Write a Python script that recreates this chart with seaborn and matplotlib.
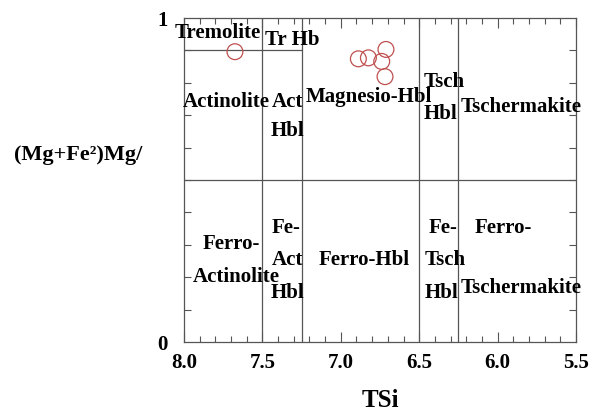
import matplotlib
matplotlib.use("Agg")
import matplotlib.pyplot as plt
from matplotlib.ticker import MultipleLocator, FixedLocator
import seaborn as sns
import pandas as pd

# Amphibole analyses: tetrahedral Si vs Mg/(Mg+Fe2+)
tsi = [7.675, 6.888, 6.824, 6.712, 6.739, 6.718]
mg_ratio = [0.896, 0.874, 0.877, 0.903, 0.866, 0.819]

# Field boundaries of the classification diagram
si_bounds = [7.5, 7.25, 6.5, 6.25]
mg_bound = 0.5
tremolite_bound = 0.9

x_ticks = [8.0, 7.5, 7.0, 6.5, 6.0, 5.5]
x_tick_labels = ["8.0", "7.5", "7.0", "6.5", "6.0", "5.5"]
y_ticks = [0, 1]
y_tick_labels = ["0", "1"]

field_names = ["Tremolite", "Tr Hb", "Actinolite", "Act", "Hbl", "Magnesio-Hbl",
               "Tsch", "Hbl", "Tschermakite",
               "Ferro-", "Actinolite", "Fe-", "Act", "Hbl", "Ferro-Hbl",
               "Fe-", "Tsch", "Hbl", "Ferro-", "Tschermakite"]
# label anchor points (TSi, Mg ratio)
field_pos = [(7.783, 0.954), (7.311, 0.932), (7.729, 0.741), (7.337, 0.741),
             (7.337, 0.651), (6.820, 0.756), (6.342, 0.802), (6.367, 0.704),
             (5.848, 0.725),
             (7.697, 0.302), (7.665, 0.201), (7.349, 0.352), (7.340, 0.253),
             (7.340, 0.151), (6.852, 0.253), (6.351, 0.352), (6.335, 0.253),
             (6.355, 0.151), (5.962, 0.352), (5.848, 0.167)]

sns.set_theme(style="white")
plt.rcParams["font.family"] = ["Liberation Serif", "DejaVu Serif"]
plt.rcParams["font.weight"] = "bold"
plt.rcParams["text.color"] = "black"
plt.rcParams["axes.labelcolor"] = "black"
plt.rcParams["xtick.color"] = "black"
plt.rcParams["ytick.color"] = "black"

df = pd.DataFrame({"TSi": tsi, "Mg": mg_ratio})

fig = plt.figure(figsize=(5.92, 4.12), dpi=100)
ax = fig.add_axes([184 / 592, 70 / 412, 392 / 592, 324 / 412])

line_kw = dict(color="#555555", lw=0.9, zorder=1)
for s in si_bounds:
    ax.axvline(s, **line_kw)
ax.axhline(mg_bound, **line_kw)
ax.plot([8.0, 7.25], [tremolite_bound, tremolite_bound], **line_kw)

sns.scatterplot(data=df, x="TSi", y="Mg", ax=ax, marker="o", s=130,
                facecolor="none", edgecolor="#bf5050", linewidth=0.9, zorder=3)

for name, (x, y) in zip(field_names, field_pos):
    ax.text(x, y, name, ha="center", va="center", fontsize=15,
            fontweight="bold", color="black", zorder=4, clip_on=False)

ax.set_xlim(8.0, 5.5)
ax.set_ylim(0, 1)
ax.xaxis.set_major_locator(FixedLocator(x_ticks))
ax.set_xticklabels(x_tick_labels)
ax.xaxis.set_minor_locator(MultipleLocator(0.1))
ax.yaxis.set_major_locator(FixedLocator(y_ticks))
ax.set_yticklabels(y_tick_labels)
ax.yaxis.set_minor_locator(MultipleLocator(0.1))

ax.tick_params(axis="both", which="both", direction="in", top=True, right=True,
               bottom=True, left=True, color="#555555", width=0.8,
               labelcolor="black")
ax.tick_params(axis="x", which="major", length=7, pad=8, labelsize=15)
ax.tick_params(axis="x", which="minor", length=4)
ax.tick_params(axis="y", which="major", length=0, pad=12, labelsize=15)
ax.tick_params(axis="y", which="minor", length=5)
for lbl in ax.get_xticklabels() + ax.get_yticklabels():
    lbl.set_fontweight("bold")

for sp in ax.spines.values():
    sp.set_color("#555555")
    sp.set_linewidth(0.9)

ax.set_xlabel("TSi", fontsize=18, fontweight="bold", va="center")
ax.xaxis.set_label_coords(0.5, -0.18)
ax.set_ylabel("(Mg+Fe²)Mg/", fontsize=16, fontweight="bold", rotation=0,
              ha="center", va="center")
ax.yaxis.set_label_coords(-0.27, 0.577)

fig.savefig("out.png", dpi=100)
